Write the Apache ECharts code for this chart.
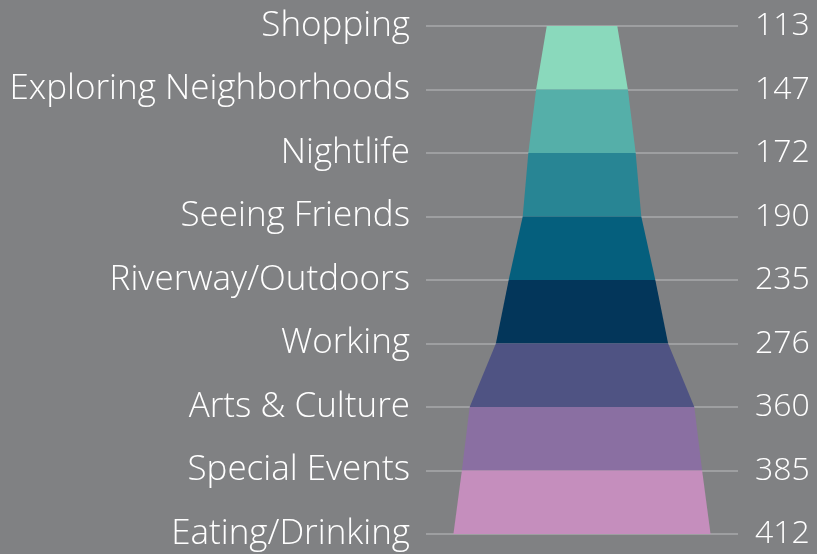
<!DOCTYPE html>
<html>
<head>
<meta charset="utf-8">
<script src="https://cdn.jsdelivr.net/npm/echarts@6/dist/echarts.min.js"></script>
<style>
html,body{margin:0;padding:0;background:#808183;}
#c{width:817px;height:554px;}
</style>
</head>
<body>
<div id="c"></div>
<script>
const categories = ["Shopping","Exploring Neighborhoods","Nightlife","Seeing Friends","Riverway/Outdoors","Working","Arts & Culture","Special Events","Eating/Drinking"];
const values = [113,147,172,190,235,276,360,385,412];
const bandColors = ["#8ad9bc","#55afa9","#288594","#055f7d","#03365a","#4f5383","#8a6fa2","#c58ebd"];

const bands = values.slice(0, -1).map((v, i) => [v, values[i + 1], i]);

const chart = echarts.init(document.getElementById('c'), null, {renderer: 'canvas'});
chart.setOption({
  backgroundColor: '#808183',
  animation: false,
  grid: {left: 426, right: 79, top: 26, bottom: 20},
  xAxis: {type: 'value', min: -250, max: 250, show: false},
  yAxis: [
    {
      type: 'category', data: categories, inverse: true, boundaryGap: false,
      axisLine: {show: false}, axisTick: {show: false},
      axisLabel: {margin: 16, color: '#ffffff', fontFamily: 'Open Sans', fontWeight: 300, fontSize: 35, padding: [0, 0, 3, 0]},
      splitLine: {show: true, lineStyle: {color: '#a9aaab', width: 1.5}}
    },
    {
      type: 'category', data: values.map(String), inverse: true, boundaryGap: false,
      position: 'right',
      axisLine: {show: false}, axisTick: {show: false},
      axisLabel: {margin: 17, color: '#ffffff', fontFamily: 'Open Sans', fontWeight: 300, fontSize: 32, padding: [0, 0, 3, 0]},
      splitLine: {show: false}
    }
  ],
  series: [{
    type: 'custom',
    data: bands,
    clip: false,
    renderItem: function (params, api) {
      const top = api.value(0), bot = api.value(1), i = api.value(2);
      const p1 = api.coord([-top / 2, i]);
      const p2 = api.coord([top / 2, i]);
      const p3 = api.coord([bot / 2, i + 1]);
      const p4 = api.coord([-bot / 2, i + 1]);
      return {
        type: 'polygon',
        shape: {points: [p1, p2, p3, p4]},
        style: {fill: bandColors[params.dataIndex]}
      };
    }
  }]
});
</script>
</body>
</html>
